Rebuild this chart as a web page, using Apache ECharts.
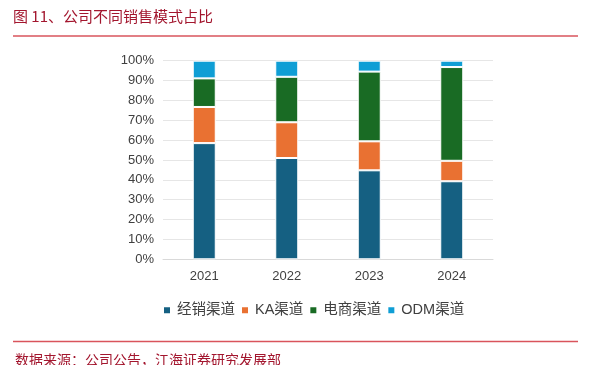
<!DOCTYPE html>
<html><head><meta charset="utf-8">
<script src="https://cdn.jsdelivr.net/npm/echarts@6/dist/echarts.min.js"></script>
<style>html,body{margin:0;padding:0;background:#fff}#c{width:592px;height:365px}</style>
</head><body><div id="c"></div>
<script>
const categories = ['2021','2022','2023','2024'];
const seriesNames = ['经销渠道','KA渠道','电商渠道','ODM渠道'];
const distributor = [58.5, 51.0, 44.8, 39.3];
const ka = [18.2, 18.0, 14.6, 10.3];
const ecommerce = [14.4, 22.9, 35.1, 47.2];
const odm = [8.9, 8.1, 5.5, 3.2];
const colors = ['#156082','#E97132','#196B24','#0F9ED5'];
const titleText = '图 11、公司不同销售模式占比';
const sourceText = '数据来源：公司公告，江海证券研究发展部';

const chart = echarts.init(document.getElementById('c'));
const values = [distributor, ka, ecommerce, odm];
chart.setOption({
  animation: false,
  backgroundColor: '#fff',
  color: colors,
  grid: {left: 163, right: 99, top: 60.7, bottom: 105.7},
  legend: {
    data: seriesNames, left: 162, top: 303, padding: 0,
    icon: 'rect', itemWidth: 8, itemHeight: 8, itemGap: 5,
    textStyle: {fontSize: 14.5, color: '#404040', fontFamily: 'Liberation Sans, Noto Sans CJK SC', padding: [0, 0, 0, 1]}
  },
  xAxis: {
    type: 'category', data: categories,
    axisLine: {show: true, lineStyle: {color: '#d9d9d9'}},
    axisTick: {show: false},
    axisLabel: {fontSize: 13, color: '#404040', margin: 11, fontFamily: 'Liberation Sans'}
  },
  yAxis: {
    type: 'value', min: 0, max: 100, interval: 10,
    axisLine: {show: false}, axisTick: {show: false},
    splitLine: {lineStyle: {color: '#e6e6e6'}},
    axisLabel: {formatter: '{value}%', fontSize: 13, color: '#404040', margin: 9, fontFamily: 'Liberation Sans'}
  },
  series: seriesNames.map((n, i) => ({
    name: n, type: 'bar', stack: 'total', data: values[i], barWidth: 23,
    itemStyle: {borderColor: '#fff', borderWidth: 1}
  })),
  graphic: [
    {type: 'text', left: 13, top: 9, style: {text: titleText, fontSize: 15, fill: '#A3162E', fontFamily: 'Noto Sans CJK SC'}},
    {type: 'line', shape: {x1: 13, y1: 36, x2: 578, y2: 36}, style: {stroke: '#D9545C', lineWidth: 1.5}},
    {type: 'line', shape: {x1: 13, y1: 341.5, x2: 578, y2: 341.5}, style: {stroke: '#D9545C', lineWidth: 1.5}},
    {type: 'text', left: 15, top: 353, style: {text: sourceText, fontSize: 14, fill: '#A3162E', fontFamily: 'Noto Sans CJK SC'}}
  ]
});
</script></body></html>
